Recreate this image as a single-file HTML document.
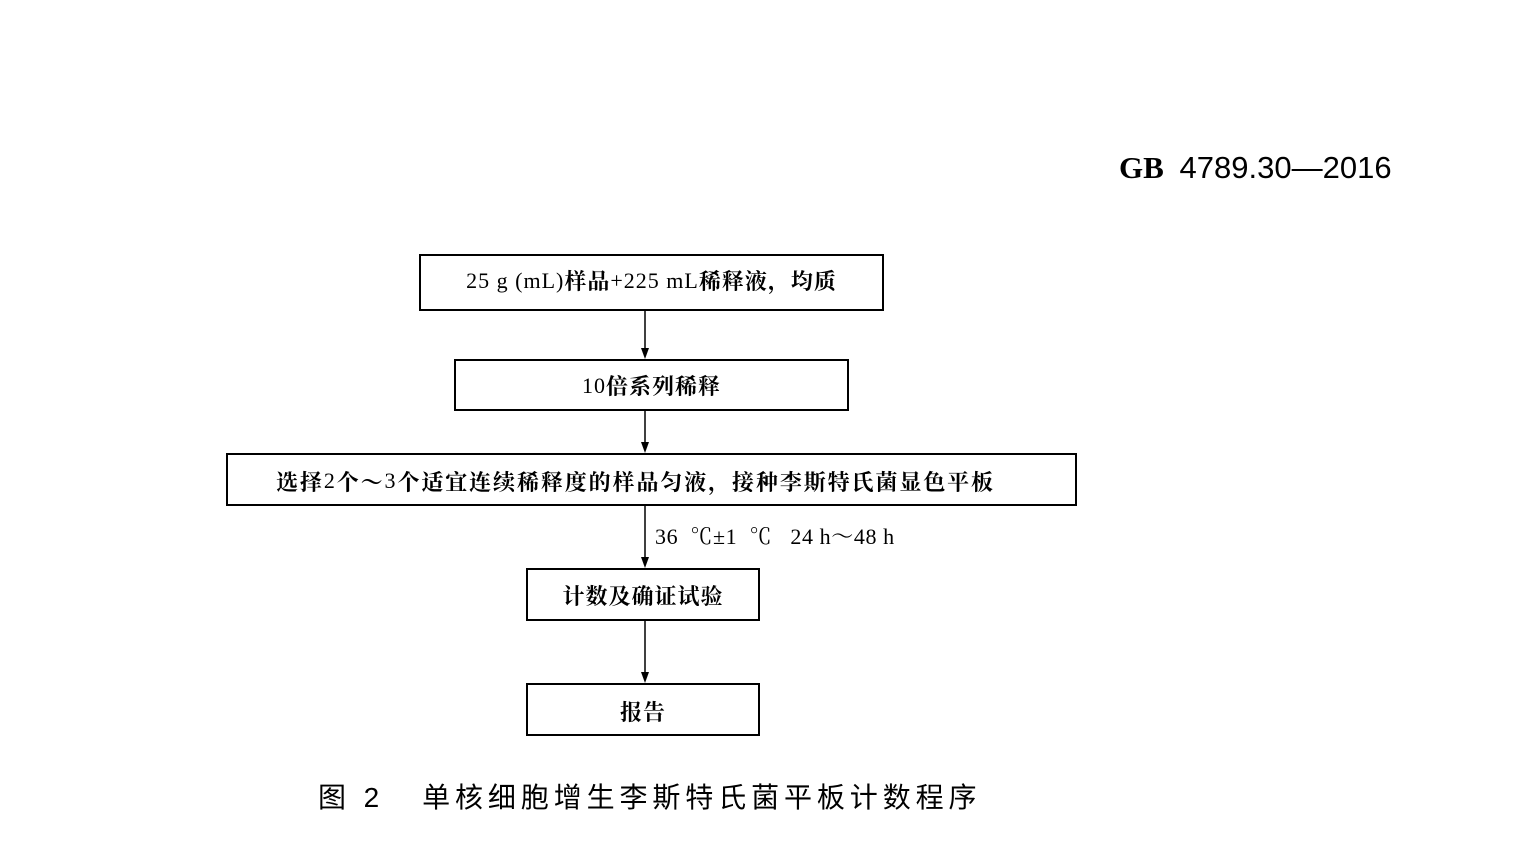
<!DOCTYPE html>
<html><head><meta charset="utf-8"><style>
body{margin:0;width:1518px;height:846px;background:#fff;position:relative;overflow:hidden;font-family:"Liberation Serif","Noto Serif CJK SC",serif;color:#000}
.b{position:absolute;border:2.5px solid #000;box-sizing:border-box;display:flex;align-items:center;justify-content:center;font-size:22px;font-weight:bold;letter-spacing:1px;padding-top:1px}
.b span,.n{font-weight:normal}
.t{position:absolute;white-space:nowrap}
</style></head><body>
<div class="t" style="left:1119px;top:150px;font-size:31px;"><b style="font-family:'Liberation Serif',serif">GB</b> <span style="font-family:'Liberation Sans',sans-serif;margin-left:8px">4789.30—2016</span></div>
<div class="b" style="left:419px;top:254px;width:465px;height:57px;padding-top:0;padding-bottom:4px"><span>25 g (mL)</span>样品<span>+225 mL</span>稀释液，均质</div>
<div class="b" style="left:454px;top:359px;width:395px;height:52px;"><span>10</span>倍系列稀释</div>
<div class="b" style="left:226px;top:453px;width:851px;height:53px;justify-content:flex-start;padding-left:48px;letter-spacing:1.9px;padding-top:3px">选择<span>2</span>个～<span>3</span>个适宜连续稀释度的样品匀液，接种李斯特氏菌显色平板</div>
<div class="b" style="left:526px;top:568px;width:234px;height:53px;">计数及确证试验</div>
<div class="b" style="left:526px;top:683px;width:234px;height:53px;padding-top:3px">报告</div>
<div class="t" style="left:655px;top:520px;font-size:22px;letter-spacing:0.6px">36&nbsp; ℃±1&nbsp; ℃&nbsp;&nbsp;&nbsp;24 h～48 h</div>
<svg style="position:absolute;left:0;top:0" width="1518" height="846">
<g stroke="#000" stroke-width="1.5">
<line x1="645" y1="311" x2="645" y2="350"/><line x1="645" y1="411" x2="645" y2="444"/>
<line x1="645" y1="506" x2="645" y2="559"/><line x1="645" y1="621" x2="645" y2="674"/>
</g>
<g fill="#000">
<polygon points="641,348 649,348 645,359"/><polygon points="641,442 649,442 645,453"/>
<polygon points="641,557 649,557 645,568"/><polygon points="641,672 649,672 645,683"/>
</g></svg>
<div class="t" style="left:318px;top:776px;font-size:28px;font-family:'Liberation Sans','Noto Sans CJK SC',sans-serif;letter-spacing:4.9px">图 2&nbsp;&nbsp;&nbsp;单核细胞增生李斯特氏菌平板计数程序</div>
</body></html>
